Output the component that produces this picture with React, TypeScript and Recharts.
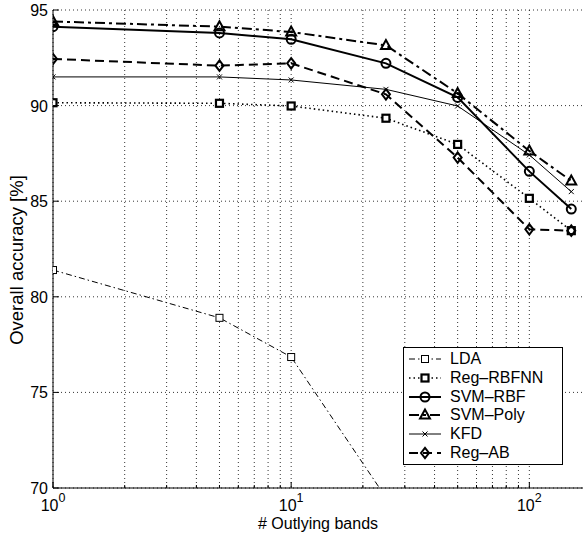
import { LineChart, Line, XAxis, YAxis, CartesianGrid, Legend } from 'recharts';

const outlyingBands = [1, 5, 10, 25, 50, 100, 150];
const lda = [81.4, 78.9, 76.85, 69.5, null, null, null];
const regRbfnn = [90.15, 90.12, 89.98, 89.34, 87.97, 85.15, 83.46];
const svmRbf = [94.13, 93.8, 93.47, 92.21, 90.43, 86.56, 84.59];
const svmPoly = [94.4, 94.13, 93.85, 93.15, 90.64, 87.63, 86.06];
const kfd = [91.5, 91.5, 91.34, 90.85, 89.98, 87.42, 85.5];
const regAb = [92.44, 92.09, 92.21, 90.59, 87.28, 83.53, 83.46];

const xTicks = [1, 2, 3, 4, 5, 6, 7, 8, 9, 10, 20, 30, 40, 50, 60, 70, 80, 90, 100];
const yTicks = [70, 75, 80, 85, 90, 95];

const FONT = '"Liberation Sans", Arial, Helvetica, sans-serif';

const data = outlyingBands.map((b, i) => ({
  bands: b,
  lda: lda[i],
  regRbfnn: regRbfnn[i],
  svmRbf: svmRbf[i],
  svmPoly: svmPoly[i],
  kfd: kfd[i],
  regAb: regAb[i],
}));

type MarkerKind = 'square' | 'circle' | 'triangle' | 'x' | 'diamond';

const Marker = ({ kind, cx, cy, sw, size }: { kind: MarkerKind; cx: number; cy: number; sw: number; size: number }) => {
  const s = size;
  switch (kind) {
    case 'square':
      return <rect x={cx - s} y={cy - s} width={2 * s} height={2 * s} fill="#fff" stroke="#000" strokeWidth={sw} />;
    case 'circle':
      return <circle cx={cx} cy={cy} r={s} fill="none" stroke="#000" strokeWidth={sw} />;
    case 'triangle':
      return (
        <polygon
          points={`${cx},${cy - s * 1.2} ${cx - s * 1.1},${cy + s * 0.8} ${cx + s * 1.1},${cy + s * 0.8}`}
          fill="none"
          stroke="#000"
          strokeWidth={sw}
        />
      );
    case 'x':
      return (
        <path d={`M${cx - s},${cy - s}L${cx + s},${cy + s}M${cx - s},${cy + s}L${cx + s},${cy - s}`} stroke="#000" strokeWidth={sw} />
      );
    case 'diamond':
      return (
        <polygon
          points={`${cx},${cy - s * 1.3} ${cx + s},${cy} ${cx},${cy + s * 1.3} ${cx - s},${cy}`}
          fill="none"
          stroke="#000"
          strokeWidth={sw}
        />
      );
  }
  return null;
};

const series = [
  { key: 'lda', name: 'LDA', width: 1, dash: '6 3 1.5 3', marker: 'square' as MarkerKind, mw: 1, ms: 3.5 },
  { key: 'regRbfnn', name: 'Reg\u2013RBFNN', width: 1.6, dash: '1.5 3', marker: 'square' as MarkerKind, mw: 2.2, ms: 3.5 },
  { key: 'svmRbf', name: 'SVM\u2013RBF', width: 2, dash: undefined, marker: 'circle' as MarkerKind, mw: 2, ms: 4.5 },
  { key: 'svmPoly', name: 'SVM\u2013Poly', width: 2, dash: '10 4 3 4', marker: 'triangle' as MarkerKind, mw: 2, ms: 4.5 },
  { key: 'kfd', name: 'KFD', width: 1, dash: undefined, marker: 'x' as MarkerKind, mw: 1, ms: 2.5 },
  { key: 'regAb', name: 'Reg\u2013AB', width: 2, dash: '9 5', marker: 'diamond' as MarkerKind, mw: 2, ms: 4 },
];

const XTickBottom = (props: any) => {
  const { x, y, payload } = props;
  const v = payload.value;
  const major = v === 1 || v === 10 || v === 100;
  const exp = Math.round(Math.log10(v));
  return (
    <g>
      <line x1={x} x2={x} y1={y} y2={y - (major ? 6 : 3)} stroke="#000" strokeWidth={1} />
      {major && (
        <text x={x} y={y + 23} textAnchor="middle" fontSize={16} fontFamily={FONT} fill="#000">
          10
          <tspan dy={-9} fontSize={12.5}>
            {exp}
          </tspan>
        </text>
      )}
    </g>
  );
};

const XTickTop = (props: any) => {
  const { x, y, payload } = props;
  const major = payload.value === 1 || payload.value === 10 || payload.value === 100;
  return <line x1={x} x2={x} y1={y} y2={y + (major ? 6 : 3)} stroke="#000" strokeWidth={1} />;
};

const YTick = (props: any) => {
  const { x, y, payload } = props;
  return (
    <g>
      <line x1={x} x2={x + 6} y1={y} y2={y} stroke="#000" strokeWidth={1} />
      <text x={x - 5} y={y + 6} textAnchor="end" fontSize={16} fontFamily={FONT} fill="#000">
        {payload.value}
      </text>
    </g>
  );
};

const YLabel = (props: any) => {
  const vb = props.viewBox || { x: 0, y: 10, width: 53, height: 478 };
  const cy = vb.y + vb.height / 2 + 11;
  return (
    <text
      transform={`translate(23,${cy}) rotate(-90)`}
      textAnchor="middle"
      fontSize={18.5}
      fontFamily={FONT}
      fill="#000"
    >
      Overall accuracy [%]
    </text>
  );
};

const LegendBox = () => (
  <div
    style={{
      width: 158,
      height: 114,
      border: '1px solid #000',
      background: '#fff',
      fontFamily: FONT,
      fontSize: 16,
      boxSizing: 'content-box',
      paddingTop: 2,
    }}
  >
    {series.map((s) => (
      <div key={s.key} style={{ display: 'flex', alignItems: 'center', height: 18.7 }}>
        <svg width={44} height={18} style={{ display: 'block' }}>
          <line x1={5} x2={37} y1={9} y2={9} stroke="#000" strokeWidth={s.width} strokeDasharray={s.dash} />
          <Marker kind={s.marker} cx={21} cy={9} sw={s.mw} size={s.ms} />
        </svg>
        <span style={{ marginLeft: 2, lineHeight: '18px', color: '#000' }}>{s.name}</span>
      </div>
    ))}
  </div>
);

export default function App() {
  return (
    <div style={{ position: 'absolute', left: 0, top: 0, width: 583, height: 538, background: '#fff' }}>
      <LineChart width={583} height={538} data={data} margin={{ top: 10, right: 0, bottom: 0, left: 0 }}>
        <CartesianGrid stroke="#000" strokeWidth={0.8} strokeDasharray="1 3" horizontalValues={yTicks} verticalValues={xTicks} />
        <XAxis
          dataKey="bands"
          type="number"
          scale="log"
          domain={[1, 168]}
          allowDataOverflow
          ticks={xTicks}
          interval={0}
          height={50}
          tickSize={0}
          tickMargin={0}
          axisLine={{ stroke: '#000', strokeWidth: 1 }}
          tick={<XTickBottom />}
          label={{ value: '# Outlying bands', position: 'insideBottom', offset: 9, fontSize: 16, fontFamily: FONT, fill: '#000' }}
        />
        <XAxis
          xAxisId="top"
          orientation="top"
          dataKey="bands"
          type="number"
          scale="log"
          domain={[1, 168]}
          allowDataOverflow
          ticks={xTicks}
          interval={0}
          height={0}
          tickSize={0}
          tickMargin={0}
          axisLine={{ stroke: '#000', strokeWidth: 1 }}
          tick={<XTickTop />}
        />
        <YAxis
          type="number"
          domain={[70, 95]}
          allowDataOverflow
          ticks={yTicks}
          interval={0}
          width={53}
          tickSize={0}
          tickMargin={0}
          axisLine={{ stroke: '#000', strokeWidth: 1 }}
          tick={<YTick />}
          label={<YLabel />}
        />
        <Legend
          layout="vertical"
          verticalAlign="middle"
          align="center"
          content={<LegendBox />}
          wrapperStyle={{ position: 'absolute', left: 403, top: 347, width: 160 }}
        />
        {series.map((s) => (
          <Line
            key={s.key}
            dataKey={s.key}
            name={s.name}
            type="linear"
            stroke="#000"
            strokeWidth={s.width}
            strokeDasharray={s.dash}
            isAnimationActive={false}
            connectNulls={false}
            dot={(p: any) => {
              if (p.cy == null || p.cx == null) return <g key={`${s.key}-${p.index}`} />;
              return (
                <g key={`${s.key}-${p.index}`}>
                  <Marker kind={s.marker} cx={p.cx} cy={p.cy} sw={s.mw} size={s.ms} />
                </g>
              );
            }}
            activeDot={false}
          />
        ))}
      </LineChart>
    </div>
  );
}
